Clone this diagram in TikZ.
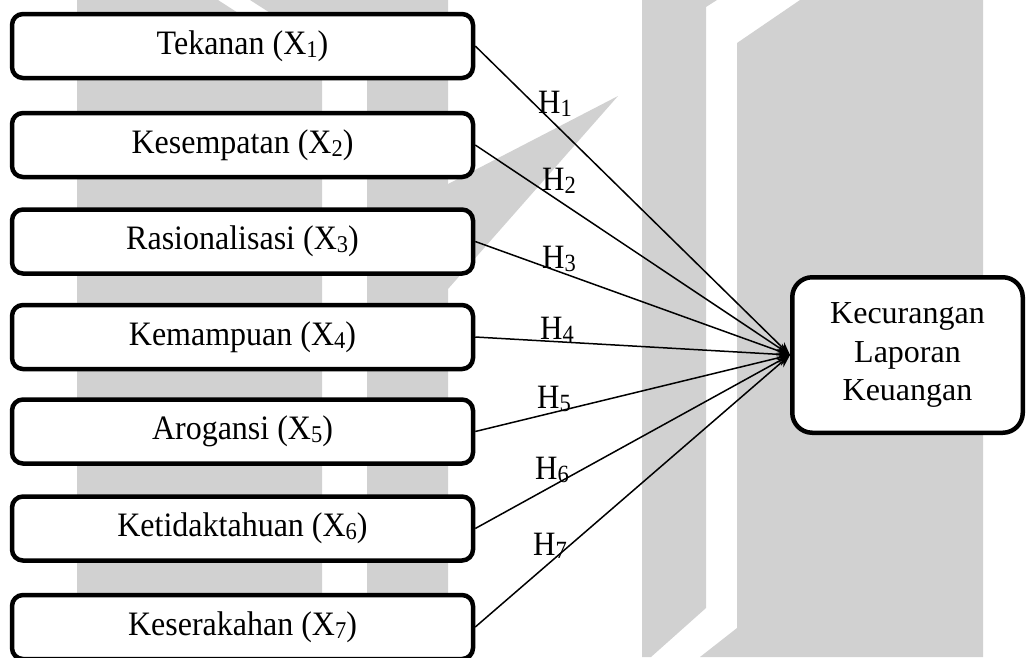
\documentclass[tikz,border=0pt]{standalone}
\usepackage{graphicx}
\usepackage{fontspec}
\setmainfont{Liberation Serif}
\usetikzlibrary{arrows.meta}
\newcommand{\subsc}[1]{\raisebox{-0.09em}{\fontsize{22.5}{22.5}\selectfont #1}}
\newcommand{\vs}[1]{\scalebox{1}[1.07]{#1}}
\newcommand{\vh}[1]{\scalebox{1}[1.1]{#1}}
\definecolor{wm}{RGB}{209,209,209}
\tikzset{
  txt/.style={font=\fontsize{32}{38.5}\selectfont},
  varbox/.style={txt, draw=black, line width=4.5pt, rounded corners=11pt, fill=white,
    minimum width=461pt, minimum height=64pt, inner sep=0pt},
  depbox/.style={txt, draw=black, line width=4.5pt, rounded corners=20pt, fill=white,
    minimum width=230.5pt, minimum height=155.5pt, inner sep=0pt, align=center},
  hyp/.style={-{Stealth[length=13pt,width=10pt]}, line width=1.5pt},
  hlab/.style={font=\fontsize{31}{37}\selectfont, inner sep=0pt, anchor=base west},
  wmark/.style={fill=wm, draw=none}
}
\begin{document}
\begin{tikzpicture}[x=1pt,y=-1pt]
\useasboundingbox (0,0) rectangle (1027,657);
\begin{scope}
\clip (0,0) rectangle (1027,657);
% watermark
\fill[wmark] (77,0) -- (218,0) -- (322,67) -- (322,657) -- (77,657) -- cycle;
\fill[wmark] (250,0) -- (448,0) -- (448,657) -- (367,657) -- (367,75) -- cycle;
\fill[wmark] (448,184) -- (618,96) -- (448,289) -- cycle;
\fill[wmark] (642,0) -- (717,0) -- (706,7) -- (706,608) -- (651,657) -- (642,657) -- cycle;
\fill[wmark] (737,43) -- (800,0) -- (983,0) -- (983,657) -- (700,657) -- (737,628) -- cycle;
% nodes
\node[varbox] (x1) at (242.5,46) {\vs{Tekanan (X\subsc{1})}};
\node[varbox] (x2) at (242.5,145) {\vs{Kesempatan (X\subsc{2})}};
\node[varbox] (x3) at (242.5,241.5) {\vs{Rasionalisasi (X\subsc{3})}};
\node[varbox] (x4) at (242.5,337) {\vs{Kemampuan (X\subsc{4})}};
\node[varbox] (x5) at (242.5,431.5) {\vs{Arogansi (X\subsc{5})}};
\node[varbox] (x6) at (242.5,528.5) {\vs{Ketidaktahuan (X\subsc{6})}};
\node[varbox] (x7) at (242.5,627) {\vs{Keserakahan (X\subsc{7})}};
\node[depbox] (y) at (907.5,355) {Kecurangan\\Laporan\\Keuangan};
% connectors
\foreach \i in {1,...,7} {\draw[hyp] (x\i.east) -- (y.west);}
% labels
\node[hlab] (h1) at (538,113) {\vh{H\subsc{1}}};
\node[hlab] (h2) at (542,190.5) {\vh{H\subsc{2}}};
\node[hlab] (h3) at (542,268) {\vh{H\subsc{3}}};
\node[hlab] (h4) at (540,339) {\vh{H\subsc{4}}};
\node[hlab] (h5) at (537,408) {\vh{H\subsc{5}}};
\node[hlab] (h6) at (535,479.5) {\vh{H\subsc{6}}};
\node[hlab] (h7) at (533,555) {\vh{H\subsc{7}}};
\end{scope}
\end{tikzpicture}
\end{document}
